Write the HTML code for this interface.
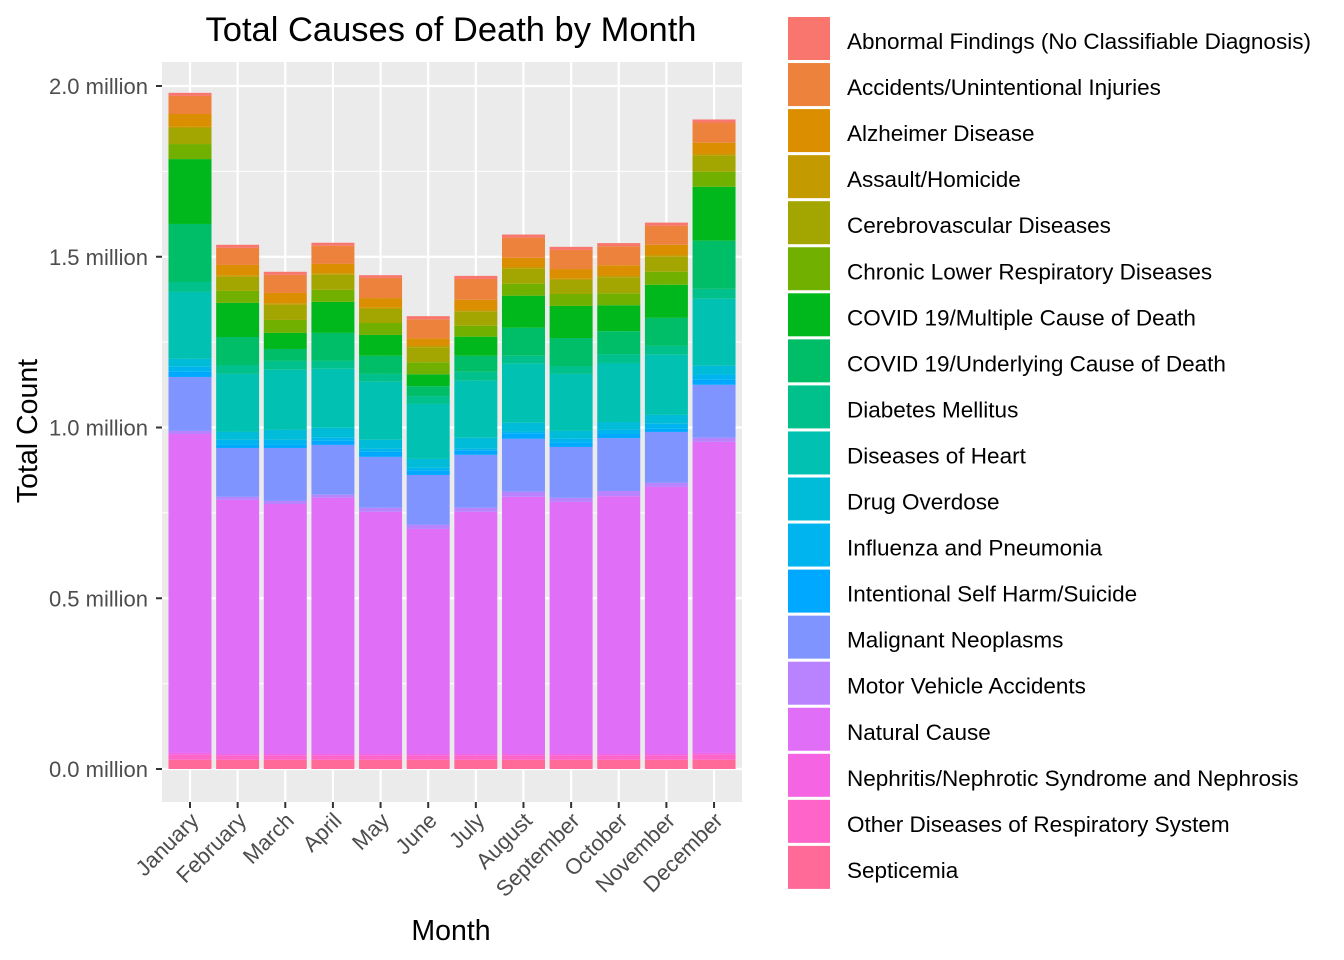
<!DOCTYPE html>
<html><head><meta charset="utf-8"><style>
html,body{margin:0;padding:0;background:#fff;}
svg{display:block;font-family:"Liberation Sans",Arial,sans-serif;}
</style></head><body>
<svg id="chart" width="1344" height="960" viewBox="0 0 1344 960">
<text x="451" y="41" text-anchor="middle" font-size="34.5" fill="#000">Total Causes of Death by Month</text>
<rect x="162" y="62" width="580" height="740" fill="#EBEBEB"/>
<g id="grid"></g><g id="bars"></g><g id="axes"></g><g id="legend"></g>
<text x="451" y="940" text-anchor="middle" font-size="28.5" fill="#000">Month</text>
<text transform="translate(37,431) rotate(-90)" text-anchor="middle" font-size="28.5" fill="#000">Total Count</text>
</svg>
<script>
const months = ["January","February","March","April","May","June","July","August","September","October","November","December"];
const causes = ["Abnormal Findings (No Classifiable Diagnosis)","Accidents/Unintentional Injuries","Alzheimer Disease","Assault/Homicide","Cerebrovascular Diseases","Chronic Lower Respiratory Diseases","COVID 19/Multiple Cause of Death","COVID 19/Underlying Cause of Death","Diabetes Mellitus","Diseases of Heart","Drug Overdose","Influenza and Pneumonia","Intentional Self Harm/Suicide","Malignant Neoplasms","Motor Vehicle Accidents","Natural Cause","Nephritis/Nephrotic Syndrome and Nephrosis","Other Diseases of Respiratory System","Septicemia"];
const colors = ["#F8766D","#EC823C","#DB8E00","#C39A00","#A3A500","#72B000","#00B81B","#00BE67","#00C08B","#00C1B2","#00BCD8","#00B4EF","#00A9FF","#8094FF","#B983FF","#E16EF7","#F564E3","#FF64C8","#FF6A98"];
// values in thousands, per month
const abnormal   = [9,9,9,9,8,9,9,9,9,9,9,9];
const accidents  = [53,50,53,53,59,56,61,59,56,56,56,59];
const alzheimer  = [36,30,30,27,27,21,30,27,27,30,30,33];
const assault    = [5,5,5,5,5,5,5,5,5,5,5,5];
const cerebro    = [47,41,44,44,41,44,41,44,41,47,44,47];
const chronic    = [44,35,38,35,35,35,32,35,35,35,38,44];
const covidMult  = [190,100,47,91,61,35,56,94,94,76,97,158];
const covidUnder = [170,82,35,82,53,29,47,82,82,67,82,141];
const diabetes   = [29,26,26,23,23,23,26,23,23,26,26,29];
const heart      = [196,170,176,173,170,161,167,173,167,173,176,196];
const drug       = [23,23,29,29,26,26,32,26,23,23,26,26];
const influenza  = [15,15,15,9,9,9,6,6,12,12,15,15];
const suicide    = [15,9,9,12,15,12,12,15,12,12,9,15];
const malignant  = [158,143,155,146,149,146,155,155,149,155,149,155];
const motor      = [9,9,9,9,12,12,12,15,12,15,12,12];
const natural    = [934,744,732,750,709,659,709,753,738,755,782,911];
const nephritis  = [5,5,5,5,5,5,5,5,5,5,5,5];
const otherResp  = [15,12,12,12,12,12,12,12,12,12,12,15];
const septicemia = [27,27,27,27,27,27,27,27,27,27,27,27];
const yTicks = [0,0.5,1.0,1.5,2.0];
const yTickLabels = ["0.0 million","0.5 million","1.0 million","1.5 million","2.0 million"];

const series = [abnormal,accidents,alzheimer,assault,cerebro,chronic,covidMult,covidUnder,diabetes,heart,drug,influenza,suicide,malignant,motor,natural,nephritis,otherResp,septicemia];
const NS="http://www.w3.org/2000/svg";
function y(m){return 769 - m*341.5;}
function x(i){return 190 + i*47.64;}
const bw=43;
function mk(tag,attrs,parent){const e=document.createElementNS(NS,tag);for(const k in attrs)e.setAttribute(k,attrs[k]);parent.appendChild(e);return e;}
const grid=document.getElementById('grid'),bars=document.getElementById('bars'),axes=document.getElementById('axes'),legend=document.getElementById('legend');
for(let k=0;k<yTicks.length-1;k++){
  const gl=mk('line',{x1:162,x2:742,y1:y((yTicks[k]+yTicks[k+1])/2),y2:y((yTicks[k]+yTicks[k+1])/2),stroke:'#fff','stroke-width':1.1},grid);
  
  
}
yTicks.forEach((t,k)=>{
  const gl=mk('line',{x1:162,x2:742,y1:y(t),y2:y(t),stroke:'#fff','stroke-width':2.2},grid);
  
  
  const tk=mk('line',{x1:156,x2:162,y1:y(t),y2:y(t),stroke:'#333','stroke-width':2},axes);
  
  
  const tl=mk('text',{x:148,y:y(t)+8,'text-anchor':'end','font-size':22,fill:'#4D4D4D'},axes);
  tl.textContent=yTickLabels[k];
  
  
});
months.forEach((m,i)=>{
  const gl=mk('line',{x1:x(i),x2:x(i),y1:62,y2:802,stroke:'#fff','stroke-width':2.2},grid);
  
  
  let cum=0;
  for(let s=series.length-1;s>=0;s--){
    const v=series[s][i]/1000;
    const r=mk('rect',{x:x(i)-bw/2,y:y(cum+v),width:bw,height:Math.max(0,y(cum)-y(cum+v)),fill:colors[s]},bars);
    
    
    cum+=v;
  }
  const tk=mk('line',{x1:x(i),x2:x(i),y1:802,y2:808,stroke:'#333','stroke-width':2},axes);
  
  
  const tl=mk('text',{'text-anchor':'end','font-size':22,fill:'#4D4D4D',transform:`translate(${x(i)+10},${822}) rotate(-45)`},axes);
  tl.textContent=m;
  
  
});
causes.forEach((c,k)=>{
  const yy=17+k*46.05;
  const r=mk('rect',{x:788,y:yy,width:42,height:43,fill:colors[k]},legend);
  
  
  const t=mk('text',{x:847,y:yy+32,'font-size':22.5,fill:'#000'},legend);
  t.textContent=c;
  
  
});
</script>
</body></html>
